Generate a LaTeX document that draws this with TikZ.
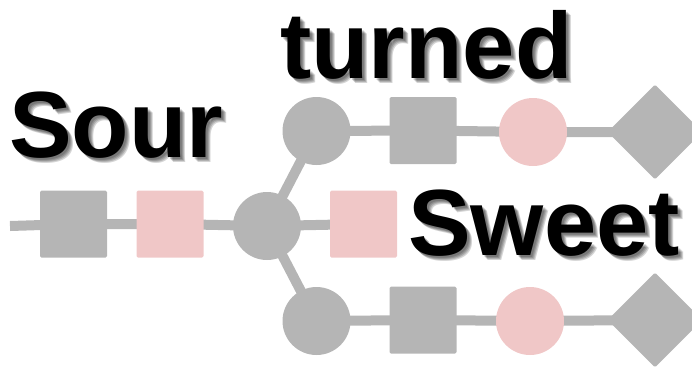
\documentclass[tikz,border=0pt]{standalone}
\usepackage{fontspec}
\setmainfont{Liberation Sans}
\usetikzlibrary{shapes.geometric,backgrounds}
\definecolor{glygray}{RGB}{181,181,181}
\definecolor{glypink}{RGB}{240,199,199}
\tikzset{
  link/.style={draw=glygray, line width=10pt},
  sqgray/.style={rectangle, fill=glygray, minimum width=67pt, minimum height=67pt, inner sep=0pt, rounded corners=1.5pt},
  sqpink/.style={rectangle, fill=glypink, minimum width=67pt, minimum height=67pt, inner sep=0pt, rounded corners=1.5pt},
  cigray/.style={circle, fill=glygray, minimum size=68pt, inner sep=0pt},
  cipink/.style={circle, fill=glypink, minimum size=68pt, inner sep=0pt},
  digray/.style={diamond, fill=glygray, minimum width=95pt, minimum height=95pt, inner sep=0pt, rounded corners=1.5pt},
  bigword/.style={anchor=base west, inner sep=0pt, font=\fontsize{94}{94}\selectfont\bfseries, text=black},
  shadowword/.style={bigword, text=black, opacity=0.17},
}
\begin{document}
\begin{tikzpicture}[x=1pt,y=-1pt]
\useasboundingbox (0,0) rectangle (692,368);
% middle row
\coordinate (start) at (10,226);
\node[sqgray] (m1) at (73.5,224) {};
\node[sqpink] (m2) at (170,224) {};
\node[cigray] (hub) at (267,226) {};
\node[sqpink] (m3) at (363.5,224) {};
% top branch
\node[cigray] (t1) at (316.5,131) {};
\node[sqgray] (t2) at (423,130.5) {};
\node[cipink] (t3) at (533,132) {};
\node[digray] (t4) at (655,132) {};
% bottom branch
\node[cigray] (b1) at (316.5,321) {};
\node[sqgray] (b2) at (423,320) {};
\node[cipink] (b3) at (530,321) {};
\node[digray] (b4) at (655,320) {};
\begin{scope}[on background layer]
\draw[link] (start) -- (m1.center) -- (m2.center) -- (hub.center) -- (m3.center);
\draw[link] (hub.center) -- (t1.center) -- (t2.center) -- (t3.center) -- (t4.center);
\draw[link] (hub.center) -- (b1.center) -- (b2.center) -- (b3.center) -- (b4.center);
\end{scope}
% soft drop shadows
\foreach \dx/\nm in {2/a,3/b,4/c,5/d}{
  \node[shadowword] (sourS\nm) at (9+\dx,157+\dx) {Sour};
  \node[shadowword] (turnS\nm) at (280+\dx,78+\dx) {turned};
  \node[shadowword] (sweetS\nm) at (408+\dx,255+\dx) {Sweet};
}
% words
\node[bigword] (sour) at (9,157) {Sour};
\node[bigword] (turned) at (280,78) {turned};
\node[bigword] (sweet) at (408,255) {Sweet};
\end{tikzpicture}
\end{document}
